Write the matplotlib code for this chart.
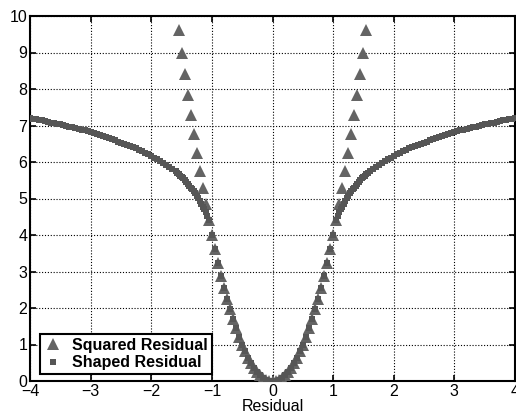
import matplotlib
matplotlib.use("Agg")
import matplotlib.pyplot as plt

plt.rcParams['font.family'] = ['Liberation Sans', 'DejaVu Sans']

# Squared residual (triangles)
squared_x = [-1.55, -1.50, -1.45, -1.40, -1.35, -1.30, -1.25, -1.20, -1.15, -1.10,
             -1.05, -1.00, -0.95, -0.90, -0.85, -0.80, -0.75, -0.70, -0.65, -0.60,
             -0.55, -0.50, -0.45, -0.40, -0.35, -0.30, -0.25, -0.20, -0.15, -0.10,
             -0.05, 0.00, 0.05, 0.10, 0.15, 0.20, 0.25, 0.30, 0.35, 0.40,
             0.45, 0.50, 0.55, 0.60, 0.65, 0.70, 0.75, 0.80, 0.85, 0.90,
             0.95, 1.00, 1.05, 1.10, 1.15, 1.20, 1.25, 1.30, 1.35, 1.40,
             1.45, 1.50, 1.55]
squared_y = [9.61, 9.00, 8.41, 7.84, 7.29, 6.76, 6.25, 5.76, 5.29, 4.84,
             4.41, 4.00, 3.61, 3.24, 2.89, 2.56, 2.25, 1.96, 1.69, 1.44,
             1.21, 1.00, 0.81, 0.64, 0.49, 0.36, 0.25, 0.16, 0.09, 0.04,
             0.01, 0.00, 0.01, 0.04, 0.09, 0.16, 0.25, 0.36, 0.49, 0.64,
             0.81, 1.00, 1.21, 1.44, 1.69, 1.96, 2.25, 2.56, 2.89, 3.24,
             3.61, 4.00, 4.41, 4.84, 5.29, 5.76, 6.25, 6.76, 7.29, 7.84,
             8.41, 9.00, 9.61]

# Shaped residual (squares), left half
shaped_x_left = [-4.00, -3.95, -3.90, -3.85, -3.80, -3.75, -3.70, -3.65, -3.60, -3.55,
                 -3.50, -3.45, -3.40, -3.35, -3.30, -3.25, -3.20, -3.15, -3.10, -3.05,
                 -3.00, -2.95, -2.90, -2.85, -2.80, -2.75, -2.70, -2.65, -2.60, -2.55,
                 -2.50, -2.45, -2.40, -2.35, -2.30, -2.25, -2.20, -2.15, -2.10, -2.05,
                 -2.00, -1.95, -1.90, -1.85, -1.80, -1.75, -1.70, -1.65,
                 -1.600, -1.575, -1.550, -1.525, -1.500, -1.475, -1.450, -1.425, -1.400,
                 -1.375, -1.350, -1.325, -1.300, -1.275, -1.250, -1.225, -1.200, -1.175,
                 -1.150, -1.125, -1.100, -1.075, -1.050,
                 -1.00, -0.95, -0.90, -0.85, -0.80, -0.75, -0.70, -0.65, -0.60, -0.55,
                 -0.50, -0.45, -0.40, -0.35, -0.30, -0.25, -0.20, -0.15, -0.10, -0.05]
shaped_y_left = [7.20, 7.18, 7.17, 7.15, 7.14, 7.12, 7.10, 7.08, 7.07, 7.05,
                 7.03, 7.01, 6.99, 6.97, 6.95, 6.93, 6.91, 6.89, 6.87, 6.85,
                 6.83, 6.80, 6.77, 6.74, 6.71, 6.68, 6.65, 6.62, 6.59, 6.56,
                 6.53, 6.50, 6.47, 6.44, 6.40, 6.37, 6.33, 6.29, 6.25, 6.21,
                 6.17, 6.12, 6.07, 6.02, 5.97, 5.92, 5.86, 5.80,
                 5.74, 5.71, 5.67, 5.63, 5.59, 5.55, 5.50, 5.45, 5.40,
                 5.35, 5.30, 5.25, 5.20, 5.14, 5.08, 5.01, 4.93, 4.86,
                 4.78, 4.70, 4.62, 4.52, 4.41,
                 4.00, 3.61, 3.24, 2.89, 2.56, 2.25, 1.96, 1.69, 1.44, 1.21,
                 1.00, 0.81, 0.64, 0.49, 0.36, 0.25, 0.16, 0.09, 0.04, 0.01]

# Shaped residual (squares), right half
shaped_x_right = [0.00, 0.05, 0.10, 0.15, 0.20, 0.25, 0.30, 0.35, 0.40, 0.45,
                  0.50, 0.55, 0.60, 0.65, 0.70, 0.75, 0.80, 0.85, 0.90, 0.95, 1.00,
                  1.050, 1.075, 1.100, 1.125, 1.150, 1.175, 1.200, 1.225, 1.250,
                  1.275, 1.300, 1.325, 1.350, 1.375, 1.400, 1.425, 1.450, 1.475,
                  1.500, 1.525, 1.550, 1.575, 1.600,
                  1.65, 1.70, 1.75, 1.80, 1.85, 1.90, 1.95, 2.00,
                  2.05, 2.10, 2.15, 2.20, 2.25, 2.30, 2.35, 2.40, 2.45, 2.50,
                  2.55, 2.60, 2.65, 2.70, 2.75, 2.80, 2.85, 2.90, 2.95, 3.00,
                  3.05, 3.10, 3.15, 3.20, 3.25, 3.30, 3.35, 3.40, 3.45, 3.50,
                  3.55, 3.60, 3.65, 3.70, 3.75, 3.80, 3.85, 3.90, 3.95, 4.00]
shaped_y_right = [0.00, 0.01, 0.04, 0.09, 0.16, 0.25, 0.36, 0.49, 0.64, 0.81,
                  1.00, 1.21, 1.44, 1.69, 1.96, 2.25, 2.56, 2.89, 3.24, 3.61, 4.00,
                  4.41, 4.52, 4.62, 4.70, 4.78, 4.86, 4.93, 5.01, 5.08,
                  5.14, 5.20, 5.25, 5.30, 5.35, 5.40, 5.45, 5.50, 5.55,
                  5.59, 5.63, 5.67, 5.71, 5.74,
                  5.80, 5.86, 5.92, 5.97, 6.02, 6.07, 6.12, 6.17,
                  6.21, 6.25, 6.29, 6.33, 6.37, 6.40, 6.44, 6.47, 6.50, 6.53,
                  6.56, 6.59, 6.62, 6.65, 6.68, 6.71, 6.74, 6.77, 6.80, 6.83,
                  6.85, 6.87, 6.89, 6.91, 6.93, 6.95, 6.97, 6.99, 7.01, 7.03,
                  7.05, 7.07, 7.08, 7.10, 7.12, 7.14, 7.15, 7.17, 7.18, 7.20]

shaped_x = shaped_x_left + shaped_x_right
shaped_y = shaped_y_left + shaped_y_right

x_ticks = [-4, -3, -2, -1, 0, 1, 2, 3, 4]
y_ticks = [0, 1, 2, 3, 4, 5, 6, 7, 8, 9, 10]

fig = plt.figure(figsize=(5.16, 4.17), dpi=100)
ax = fig.add_axes([30 / 516, 36 / 417, 485 / 516, 365 / 417])

ax.plot(squared_x, squared_y, linestyle='none', marker='^', markersize=8.2,
        color='#646464', markeredgewidth=0, label='Squared Residual', zorder=3)
ax.plot(shaped_x, shaped_y, linestyle='none', marker='s', markersize=4.4,
        color='#565656', markeredgewidth=0, label='Shaped Residual', zorder=4)

ax.set_xlim(-4, 4)
ax.set_ylim(0, 10)
ax.set_xticks(x_ticks)
ax.set_yticks(y_ticks)
ax.tick_params(direction='in', length=4, width=1.2, top=True, right=True,
               labelsize=11.5, pad=2, colors='black')
ax.grid(True, linestyle=(0, (1.0, 1.6)), color='black', linewidth=0.8)
for s in ax.spines.values():
    s.set_linewidth(1.5)

ax.set_xlabel('Residual', fontsize=11.5, labelpad=0)

leg = ax.legend(loc='lower left', bbox_to_anchor=(0.02, 0.018), borderaxespad=0,
                numpoints=1, fancybox=False, framealpha=1, edgecolor='black',
                prop={'weight': 'bold', 'size': 11.5}, handlelength=1.2,
                handletextpad=0.6, borderpad=0.25, labelspacing=0.15)
leg.get_frame().set_linewidth(1.5)

fig.savefig('out.png', dpi=100)
